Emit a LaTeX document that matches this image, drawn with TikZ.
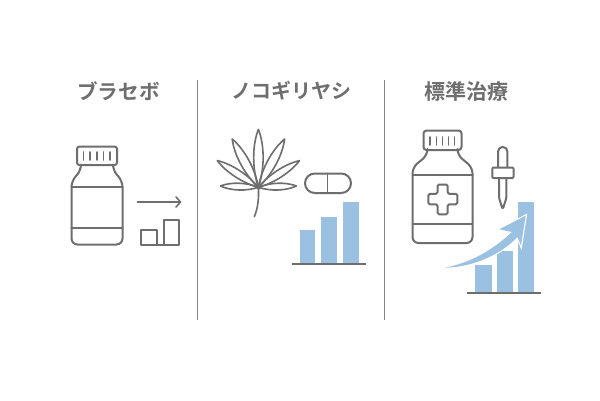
\documentclass[tikz,border=0pt]{standalone}
\usepackage{fontspec}
\newfontfamily\cjk{Noto Sans CJK JP}[BoldFont={* Bold}]
\definecolor{gr}{HTML}{6E6E6E}
\definecolor{bl}{HTML}{9AC0E2}
\tikzset{
 icon/.style={draw=gr,line width=2pt,line join=round,line cap=round},
 thin icon/.style={draw=gr,line width=1.6pt,line join=round,line cap=round},
 title/.style={text=gr,font=\cjk\fontsize{20.6}{21}\selectfont\bfseries,inner sep=0pt,anchor=center},
 bar/.style={fill=bl,draw=none},
 base/.style={draw=gr,line width=2pt},
 divider/.style={draw=gr!85,line width=1.1pt},
}
\newcommand{\leafblade}[3]{% angle, length, control offset
 \draw[thin icon,shift={(258.4,187.3)},rotate=#1]
   (0,0) .. controls ({0.32*#2},#3) and ({0.72*#2},#3) .. (#2,0)
         .. controls ({0.72*#2},-#3) and ({0.32*#2},-#3) .. (0,0);}
\newcommand{\risingarrow}{(445,267.7) .. controls (470,263) and (493,250) .. (512,232) -- (499.3,229.3) -- (525.7,215.7) -- (521,245.7) -- (517.5,237) .. controls (499,256) and (472,267) .. (445,267.7) -- cycle}
\begin{document}
\begin{tikzpicture}[x=1pt,y=-1pt]
\useasboundingbox (0,0) rectangle (600,400);
\fill[white] (0,0) rectangle (600,400);
\node[title] (t1) at (118.5,91) {ブラセボ};
\node[title,font=\cjk\fontsize{20}{21}\selectfont\bfseries] (t2) at (291,91) {ノコギリヤシ};
\node[title,font=\cjk\fontsize{21}{21}\selectfont\bfseries] (t3) at (466.5,91) {標準治療};
\draw[divider] (197.5,80) -- (197.5,320);
\draw[divider] (384.5,80) -- (384.5,320);
% bottle 1
\draw[icon,rounded corners=2.5pt] (77,146.5) rectangle (117,165);
\draw[icon,rounded corners=6pt] (81,165) -- (81,170.5) -- (71.5,181) -- (71.5,244.5) -- (122.5,244.5) -- (122.5,181) -- (113,170.5) -- (113,165);
\draw[icon] (71.5,186.5) -- (122.5,186.5) (71.5,228) -- (122.5,228);
\foreach \x in {83.5,90,96.8,103.5,110}{\draw[thin icon] (\x,152) -- (\x,160);}
\draw[thin icon] (137.5,202) -- (180.5,202);
\draw[thin icon] (176,197) -- (180.5,202) -- (176,207);
\draw[icon] (141,244.5) -- (141,229.5) -- (157,229.5) -- (157,244.5) -- cycle;
\draw[icon] (163.5,244.5) -- (163.5,219.5) -- (178.5,219.5) -- (178.5,244.5) -- cycle;
\draw[icon] (157,244.5) -- (163.5,244.5);
% leaf
\leafblade{90}{58}{6.3}
\leafblade{61.5}{55}{6}
\leafblade{118.5}{55}{6}
\leafblade{33}{49}{5}
\leafblade{147}{49}{5}
\leafblade{2}{38}{4.5}
\leafblade{178}{38}{4.5}
\coordinate (leafbase) at (258.4,187.3);
\coordinate (leafstem) at (254.3,216.7);
\fill[gr] (leafbase) circle (2.2pt);
\draw[thin icon] (leafbase) .. controls (259,198) and (258,208) .. (leafstem);
% pill
\draw[icon,rounded corners=9.7pt] (305,173.5) rectangle (351,193);
\draw[thin icon] (327.5,173.5) -- (327.5,193);
% bars 2
\fill[bar] (299.5,229.5) rectangle (315,263);
\fill[bar] (321,217) rectangle (336.5,263);
\fill[bar] (342.5,201.5) rectangle (358.5,263);
\draw[base] (291.5,263.5) -- (365.5,263.5);
% bottle 3
\draw[icon,rounded corners=3pt] (423.5,130.5) rectangle (461.5,150);
\draw[icon,rounded corners=6pt] (427.5,150) -- (427.5,155) -- (412.5,167.5) -- (412.5,243) -- (472.5,243) -- (472.5,167.5) -- (457.5,155) -- (457.5,150);
\draw[icon] (412.5,175) -- (472.5,175) (412.5,224) -- (472.5,224);
\foreach \x in {430,436.5,442.5,448.5,454.5}{\draw[thin icon] (\x,137) -- (\x,145);}
\draw[icon,rounded corners=1.5pt] (437.5,184.5) -- (447.7,184.5) -- (447.7,193.8) -- (457.3,193.8) -- (457.3,204.3) -- (447.7,204.3) -- (447.7,214.3) -- (437.5,214.3) -- (437.5,204.3) -- (428.3,204.3) -- (428.3,193.8) -- (437.5,193.8) -- cycle;
% dropper
\draw[icon] (498,167) -- (498,151.6) arc[start angle=180,end angle=360,radius=4.7] -- (507.4,167);
\draw[icon,rounded corners=1pt] (492.3,167.5) rectangle (513.5,178);
\draw[icon,rounded corners=1.5pt] (499,178) -- (499,198) -- (502.7,209.3) -- (506.4,198) -- (506.4,178);
% bars 3
\fill[bar] (475,264.5) rectangle (491.5,292);
\fill[bar] (497,251) rectangle (512.5,292);
\fill[bar] (517.5,201.5) rectangle (534,292);
\draw[base] (467,292.5) -- (541,292.5);
% rising arrow
\path[draw=white,line width=2.4pt,line join=miter] \risingarrow;
\fill[bl] \risingarrow;
\end{tikzpicture}
\end{document}
